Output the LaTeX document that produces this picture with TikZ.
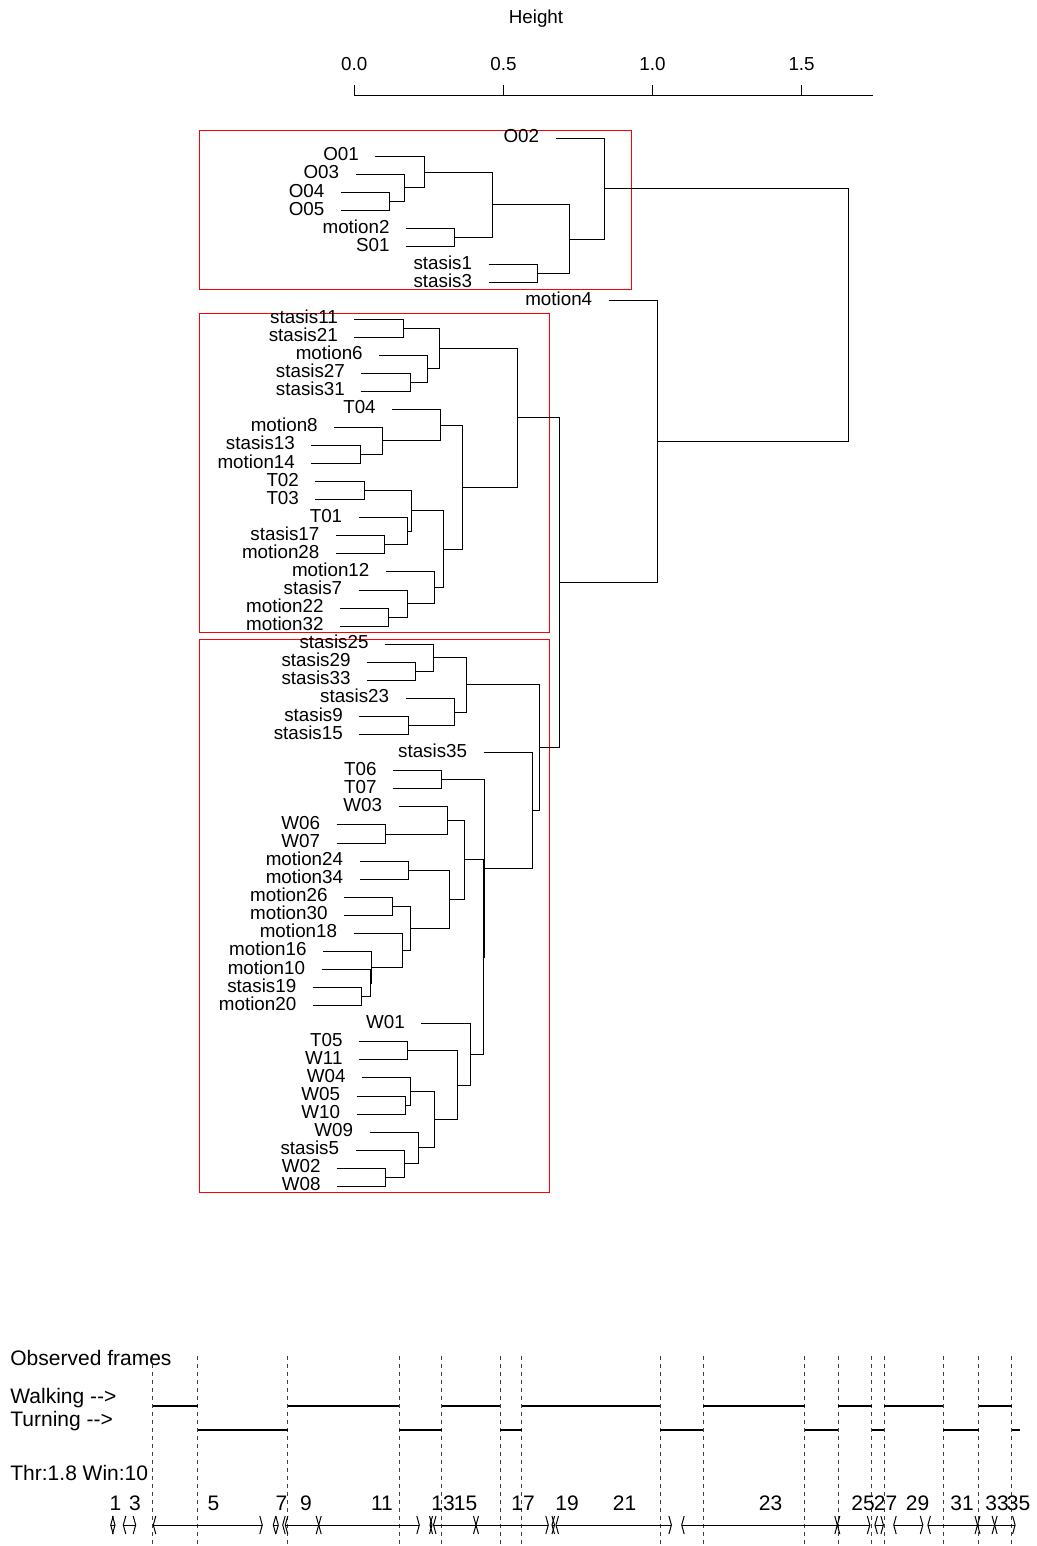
\documentclass[tikz,border=0pt]{standalone}
\usepackage{fontspec}
\setmainfont{Liberation Sans}
\usetikzlibrary{calc}
\tikzset{
  dline/.style={line width=0.5pt, black},
  leaflab/.style={anchor=base east, inner sep=0pt, font=\fontsize{9.4pt}{11pt}\selectfont},
  axlab/.style={anchor=base, inner sep=0pt, font=\fontsize{9.4pt}{11pt}\selectfont},
  clbox/.style={draw=red, line width=0.5pt},
  tlab/.style={anchor=base west, inner sep=0pt, font=\fontsize{10.5pt}{12pt}\selectfont},
  numlab/.style={anchor=base, inner sep=0pt, font=\fontsize{10.5pt}{12pt}\selectfont},
  framedash/.style={line width=0.5pt, dash pattern=on 2.2pt off 1.8pt, black!75},
  segline/.style={line width=1pt, black},
  ivline/.style={line width=0.5pt, black},
}
\newcommand\dleaf[4]{%
  \coordinate (#1) at ({#3-48.8},{138.3+18.07*#2});
  \node[leaflab] (#1-lab) at ($(#1)+(-16,4.5)$) {#4};
}
\newcommand\dmerge[4]{%
  \path let \p1=(#3), \p2=(#4) in coordinate (#1) at ({#2*0.5pt},{0.5*(\y1+\y2)});
  \draw[dline] (#3) -| (#1);
  \draw[dline] (#4) -| (#1);
}
\newcommand\ivy{1525}
\newcommand\lbr[1]{\draw[ivline] ({#1+2.5},{\ivy-9}) -- (#1,\ivy) -- ({#1+2.5},{\ivy+9});}
\newcommand\rbr[1]{\draw[ivline] ({#1-2.5},{\ivy-9}) -- (#1,\ivy) -- ({#1-2.5},{\ivy+9});}
\newcommand\ival[2]{\draw[ivline] (#1,\ivy) -- (#2,\ivy); \lbr{#1}\rbr{#2}}
\begin{document}
\begin{tikzpicture}[x=0.5pt,y=-0.5pt]
\useasboundingbox (0,0) rectangle (1037,1546);
% axis
\node[axlab] (htitle) at (536,24) {Height};
\draw[dline] (354.3,96) -- (873,96);
\foreach \h/\x in {0.0/354.3,0.5/503.4,1.0/652.5,1.5/801.6}{
  \draw[dline] (\x,96) -- (\x,85);
  \node[axlab] at (\x,70.5) {\h};
}
% cluster boxes
\draw[clbox] (199,131) rectangle (631,289);
\draw[clbox] (199,313.3) rectangle (549.4,632.3);
\draw[clbox] (199.3,639) rectangle (549.3,1192.7);
% leaves
\dleaf{O02}{0}{604.3}{O02}
\dleaf{O01}{1}{424}{O01}
\dleaf{O03}{2}{404.3}{O03}
\dleaf{O04}{3}{389.6}{O04}
\dleaf{O05}{4}{389.6}{O05}
\dleaf{motion2}{5}{454.7}{motion2}
\dleaf{S01}{6}{454.7}{S01}
\dleaf{stasis1}{7}{537.3}{stasis1}
\dleaf{stasis3}{8}{537.3}{stasis3}
\dleaf{motion4}{9}{657.4}{motion4}
\dleaf{stasis11}{10}{403}{stasis11}
\dleaf{stasis21}{11}{403}{stasis21}
\dleaf{motion6}{12}{427.9}{motion6}
\dleaf{stasis27}{13}{410.1}{stasis27}
\dleaf{stasis31}{14}{410.1}{stasis31}
\dleaf{T04}{15}{440.9}{T04}
\dleaf{motion8}{16}{382.9}{motion8}
\dleaf{stasis13}{17}{360.1}{stasis13}
\dleaf{motion14}{18}{360.1}{motion14}
\dleaf{T02}{19}{364.1}{T02}
\dleaf{T03}{20}{364.1}{T03}
\dleaf{T01}{21}{407.4}{T01}
\dleaf{stasis17}{22}{384.6}{stasis17}
\dleaf{motion28}{23}{384.6}{motion28}
\dleaf{motion12}{24}{434.6}{motion12}
\dleaf{stasis7}{25}{407.4}{stasis7}
\dleaf{motion22}{26}{388.7}{motion22}
\dleaf{motion32}{27}{388.7}{motion32}
\dleaf{stasis25}{28}{433.7}{stasis25}
\dleaf{stasis29}{29}{415.7}{stasis29}
\dleaf{stasis33}{30}{415.7}{stasis33}
\dleaf{stasis23}{31}{454.3}{stasis23}
\dleaf{stasis9}{32}{408}{stasis9}
\dleaf{stasis15}{33}{408}{stasis15}
\dleaf{stasis35}{34}{532.3}{stasis35}
\dleaf{T06}{35}{441.7}{T06}
\dleaf{T07}{36}{441.7}{T07}
\dleaf{W03}{37}{447.3}{W03}
\dleaf{W06}{38}{385.3}{W06}
\dleaf{W07}{39}{385.3}{W07}
\dleaf{motion24}{40}{408.3}{motion24}
\dleaf{motion34}{41}{408.3}{motion34}
\dleaf{motion26}{42}{392.7}{motion26}
\dleaf{motion30}{43}{392.7}{motion30}
\dleaf{motion18}{44}{402.3}{motion18}
\dleaf{motion16}{45}{371.7}{motion16}
\dleaf{motion10}{46}{370.3}{motion10}
\dleaf{stasis19}{47}{361.5}{stasis19}
\dleaf{motion20}{48}{361.5}{motion20}
\dleaf{W01}{49}{470}{W01}
\dleaf{T05}{50}{407.7}{T05}
\dleaf{W11}{51}{407.7}{W11}
\dleaf{W04}{52}{410.7}{W04}
\dleaf{W05}{53}{405.3}{W05}
\dleaf{W10}{54}{405.3}{W10}
\dleaf{W09}{55}{418.3}{W09}
\dleaf{stasis5}{56}{404.3}{stasis5}
\dleaf{W02}{57}{385.7}{W02}
\dleaf{W08}{58}{385.7}{W08}
% merges: top cluster
\dmerge{mO45}{389.6}{O04}{O05}
\dmerge{mO3}{404.3}{O03}{mO45}
\dmerge{mO1}{424}{O01}{mO3}
\dmerge{mMS}{454.7}{motion2}{S01}
\dmerge{mT1}{492.7}{mO1}{mMS}
\dmerge{mS13}{537.3}{stasis1}{stasis3}
\dmerge{mT2}{569.5}{mT1}{mS13}
\dmerge{mTop}{604.3}{O02}{mT2}
% middle cluster
\dmerge{mS1121}{403}{stasis11}{stasis21}
\dmerge{mS2731}{410.1}{stasis27}{stasis31}
\dmerge{mM6}{427.9}{motion6}{mS2731}
\dmerge{mA}{439.1}{mS1121}{mM6}
\dmerge{mS13M14}{360.1}{stasis13}{motion14}
\dmerge{mM8}{382.9}{motion8}{mS13M14}
\dmerge{mT04}{440.9}{T04}{mM8}
\dmerge{mT23}{364.1}{T02}{T03}
\dmerge{mS17}{384.6}{stasis17}{motion28}
\dmerge{mT01}{407.4}{T01}{mS17}
\dmerge{mTT}{411.9}{mT23}{mT01}
\dmerge{mM2232}{388.7}{motion22}{motion32}
\dmerge{mS7}{407.4}{stasis7}{mM2232}
\dmerge{mM12}{434.6}{motion12}{mS7}
\dmerge{mB}{443.6}{mTT}{mM12}
\dmerge{mC}{462.3}{mT04}{mB}
\dmerge{mMid}{517.2}{mA}{mC}
% bottom cluster
\dmerge{mS2933}{415.7}{stasis29}{stasis33}
\dmerge{mS25}{433.7}{stasis25}{mS2933}
\dmerge{mS915}{408}{stasis9}{stasis15}
\dmerge{mS23}{454.3}{stasis23}{mS915}
\dmerge{mStas}{466}{mS25}{mS23}
\dmerge{mT67}{441.7}{T06}{T07}
\dmerge{mW67}{385.3}{W06}{W07}
\dmerge{mW03}{447.3}{W03}{mW67}
\dmerge{mM2434}{408.3}{motion24}{motion34}
\dmerge{mM2630}{392.7}{motion26}{motion30}
\dmerge{mA1}{361.5}{stasis19}{motion20}
\dmerge{mB1}{370.3}{motion10}{mA1}
\dmerge{mC1}{371.7}{motion16}{mB1}
\dmerge{mD1}{402.3}{motion18}{mC1}
\dmerge{mE1}{410.3}{mM2630}{mD1}
\dmerge{mF1}{449.3}{mM2434}{mE1}
\dmerge{mG1}{464.7}{mW03}{mF1}
\dmerge{mT5}{407.7}{T05}{W11}
\dmerge{mW510}{405.3}{W05}{W10}
\dmerge{mW04}{410.7}{W04}{mW510}
\dmerge{mW28}{385.7}{W02}{W08}
\dmerge{mS5}{404.3}{stasis5}{mW28}
\dmerge{mW09}{418.3}{W09}{mS5}
\dmerge{mW49}{434.7}{mW04}{mW09}
\dmerge{mWT5}{457}{mT5}{mW49}
\dmerge{mW01}{470}{W01}{mWT5}
\dmerge{mH1}{483.3}{mG1}{mW01}
\dmerge{mI1}{484.7}{mT67}{mH1}
\dmerge{mJ1}{532.3}{stasis35}{mI1}
\dmerge{mK1}{539.7}{mStas}{mJ1}
% upper levels
\dmerge{mL}{559.2}{mMid}{mK1}
\dmerge{mM}{657.4}{motion4}{mL}
\dmerge{root}{848.5}{mTop}{mM}
% timeline
\node[tlab] (obs) at (10,1365.5) {Observed frames};
\node[tlab] (walk) at (10,1403.5) {Walking -{}-{}>};
\node[tlab] (turn) at (10,1426) {Turning -{}-{}>};
\node[tlab] (thr) at (10,1480) {Thr:1.8 Win:10};
\foreach \x in {152.7,197.7,287.7,399.3,441.7,500.3,521.6,660.1,703.2,804.8,838.3,871.5,884.1,943.3,978.5,1011.7}
  \draw[framedash] (\x,1356) -- (\x,1546);
\foreach \a/\b in {152.7/197.7,287.7/399.3,441.7/500.3,521.6/660.1,703.2/804.8,838.3/871.5,884.1/943.3,978.5/1011.7}
  \draw[segline] (\a,1405.7) -- (\b,1405.7);
\foreach \a/\b in {197.7/287.7,399.3/441.7,500.3/521.6,660.1/703.2,804.8/838.3,871.5/884.1,943.3/978.5,1011.7/1019.5}
  \draw[segline] (\a,1430) -- (\b,1430);
\foreach \n/\x in {1/115.5,3/135,5/213.5,7/281.5,9/306,11/382,13/443,15/465.5,17/523,19/567,21/624.5,23/770.5,25/863,27/885.5,29/917.5,31/962,33/997,35/1018.5}
  \node[numlab] at (\x,1510) {\n};
% intervals
\ival{110.7}{115}
\ival{123.3}{135.7}
\ival{153.3}{262.3}
\ival{273.3}{278.3}
\lbr{282.7}
\ival{285.3}{318.7}
\ival{318.7}{419.3}
\ival{430}{432}
\ival{433.5}{476}
\ival{476}{548.3}
\ival{552}{554.5}
\ival{556}{671.4}
\ival{681.7}{837.3}
\ival{837.3}{869.8}
\ival{874.9}{883.4}
\ival{893.7}{922.8}
\ival{927.9}{977.5}
\ival{977.5}{994.6}
\ival{994.6}{1015.1}
\end{tikzpicture}
\end{document}
